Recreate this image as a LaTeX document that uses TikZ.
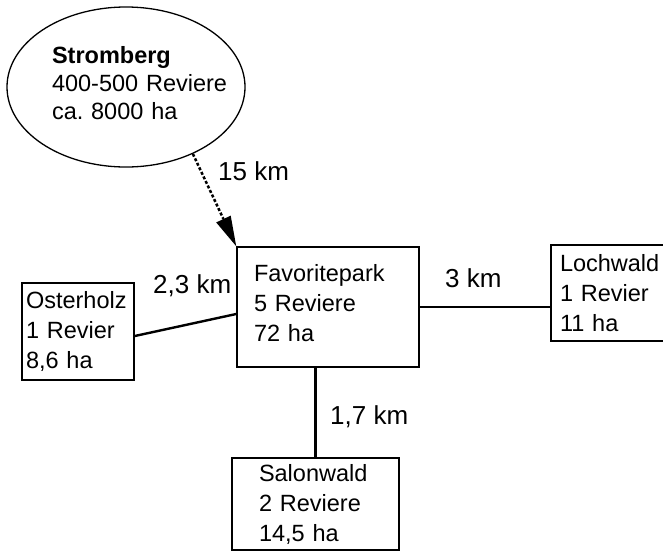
\documentclass[tikz,border=0pt]{standalone}
\usepackage{fontspec}
\setmainfont{Liberation Sans}
\usetikzlibrary{shapes.geometric, arrows.meta}
\frenchspacing

\begin{document}
\begin{tikzpicture}[x=1pt, y=-1pt,
    area/.style = {draw, line width=1.6pt, align=left, inner ysep=0pt, font=\fontsize{23.5}{30}\selectfont},
    big area/.style = {area, ellipse, line width=1.3pt, font=\fontsize{23.5}{28}\selectfont},
    dist/.style = {inner sep=0pt, font=\fontsize{26}{30}\selectfont},
    road/.style = {line width=2.4pt}]
    \useasboundingbox (0,0) rectangle (663,551);

    \node[big area, minimum width=238, minimum height=160, text width=148] (strom) at (126,87) {\textbf{Stromberg} \\ \mbox{400-500 Reviere} \\ ca. 8000 ha\strut};
    \node[area, minimum width=182, minimum height=120, text width=148, inner xsep=17] (fav) at (328,307) {Favoritepark \\ 5 Reviere \\ 72 ha\strut};
    \node[area, minimum width=112, minimum height=97, text width=104, inner xsep=4] (oster) at (78,331.5) {Osterholz \\ 1 Revier \\ 8,6 ha};
    \node[area, minimum width=120, minimum height=96, text width=102, inner xsep=9] (loch) at (611,293) {Lochwald \\ 1 Revier \\ 11 ha};
    \node[area, minimum width=167, minimum height=92, text width=113, inner xsep=27] (salon) at (315.5,504) {Salonwald \\ 2 Reviere \\ 14,5 ha};

    \begin{scope}
        \draw[line width=2.5pt, dash pattern=on 3pt off 2pt, -{Triangle[length=30pt, width=16pt, line width=0pt, sep=0pt]}] (strom.-45) -- (fav.north west);
        \node[dist, anchor=base west] (d strom) at (218,180) {15 km};
    \end{scope}

    \begin{scope}
        \draw[road] ([yshift=-4.5]oster.east) -- ([yshift=-7]fav.west);
        \draw[road] (fav.east) -- (fav.east -| loch.west);
        \draw[road] (fav.south -| salon.north) -- (salon.north);

        \node[dist, anchor=base west] (d oster) at (153,293) {2,3 km};
        \node[dist, anchor=base west] (d loch) at (445,287) {3 km};
        \node[dist, anchor=base west] (d salon) at (330,424) {1,7 km};
    \end{scope}
\end{tikzpicture}
\end{document}
